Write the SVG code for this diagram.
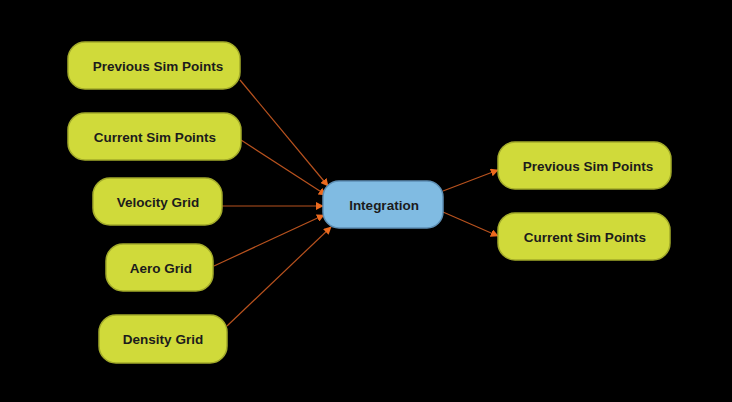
<svg xmlns="http://www.w3.org/2000/svg" width="732" height="402" viewBox="0 0 732 402">
<style>
.n{fill:#d0da3a;stroke:#a3ab2a;stroke-width:1.5}
.b{fill:#80bbe2;stroke:#5d8fb5;stroke-width:1.5}
.t{font-family:"Liberation Sans",Arial,sans-serif;font-weight:bold;font-size:13.5px;fill:#1c1c1c;text-anchor:middle;dominant-baseline:central}
.c{stroke:#b8521e;stroke-width:1.2;fill:none;marker-end:url(#ah)}
</style>
<defs>
<marker id="ah" viewBox="0 0 10 10" refX="9" refY="5" markerWidth="8" markerHeight="8" markerUnits="userSpaceOnUse" orient="auto">
<path d="M0,0 L10,5 L0,10 z" fill="#ec6a1e"/>
</marker>
</defs>
<rect width="732" height="402" fill="#000"/>
<g id="connectors">
<line class="c" x1="240" y1="80" x2="328" y2="186"/>
<line class="c" x1="241" y1="140" x2="326" y2="195"/>
<line class="c" x1="222" y1="206" x2="323" y2="206"/>
<line class="c" x1="214" y1="266" x2="324" y2="215"/>
<line class="c" x1="227" y1="326" x2="331" y2="227"/>
<line class="c" x1="443" y1="191" x2="498" y2="170"/>
<line class="c" x1="443" y1="212" x2="498" y2="236"/>
</g>
<g id="n1"><rect class="n" x="68" y="42" width="172" height="47" rx="17"/><text class="t" x="158" y="66">Previous Sim Points</text></g>
<g id="n2"><rect class="n" x="68" y="113" width="173" height="47" rx="17"/><text class="t" x="155" y="137">Current Sim Points</text></g>
<g id="n3"><rect class="n" x="93" y="178" width="129" height="47" rx="17"/><text class="t" x="158" y="202">Velocity Grid</text></g>
<g id="n4"><rect class="n" x="106" y="244" width="107" height="47" rx="17"/><text class="t" x="161" y="268">Aero Grid</text></g>
<g id="n5"><rect class="n" x="99" y="315" width="128" height="48" rx="17"/><text class="t" x="163" y="339">Density Grid</text></g>
<g id="n6"><rect class="b" x="323" y="181" width="120" height="47" rx="16"/><text class="t" x="384" y="205">Integration</text></g>
<g id="n7"><rect class="n" x="498" y="142" width="173" height="47" rx="17"/><text class="t" x="588" y="166">Previous Sim Points</text></g>
<g id="n8"><rect class="n" x="498" y="213" width="172" height="47" rx="17"/><text class="t" x="585" y="237">Current Sim Points</text></g>
</svg>
